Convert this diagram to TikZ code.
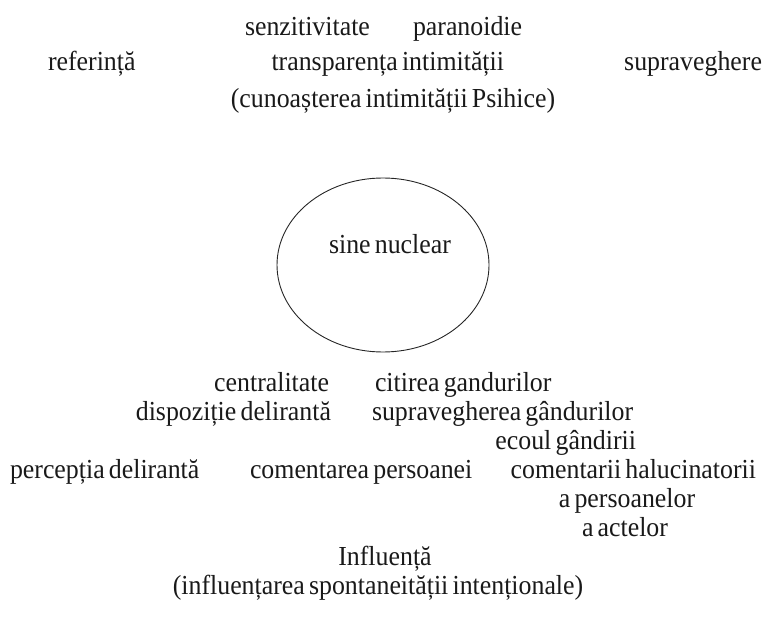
\documentclass[tikz,border=0pt]{standalone}
\usepackage{fontspec}
\setmainfont{Liberation Serif}[WordSpace=0.65]
\usetikzlibrary{shapes.geometric}
\tikzset{
  lbl/.style={inner sep=0pt, outer sep=0pt, font=\fontsize{27.5}{30}\selectfont, text=black!90, xscale=0.94, transform shape},
  core/.style={draw=black!85, line width=0.9pt, ellipse, inner sep=0pt, minimum width=212pt, minimum height=174pt}
}
\begin{document}
\begin{tikzpicture}[x=1pt,y=-1pt]
\useasboundingbox (0,0) rectangle (775,617);
% top block
\node[lbl, anchor=base west] (senz) at (245,36) {senzitivitate};
\node[lbl, anchor=base west] (para) at (413,36) {paranoidie};
\node[lbl, anchor=base west] (ref) at (48,71) {referință};
\node[lbl, anchor=base east] (transp) at (504,71) {transparența intimității};
\node[lbl, anchor=base east] (supr) at (762,71) {supraveghere};
\node[lbl, anchor=base] (cunoa) at (393,108) {(cunoașterea intimității Psihice)};
% core
\node[core] (nucleus) at (383,265) {};
\node[lbl, anchor=base] (sine) at (390,254) {sine nuclear};
% bottom block
\node[lbl, anchor=base east] (centr) at (329,391) {centralitate};
\node[lbl, anchor=base west] (citir) at (375,391) {citirea gandurilor};
\node[lbl, anchor=base east] (dispoz) at (331,420) {dispoziție delirantă};
\node[lbl, anchor=base west] (suprg) at (372,420) {supravegherea gândurilor};
\node[lbl, anchor=base east] (ecoul) at (636,449) {ecoul gândirii};
\node[lbl, anchor=base west] (perc) at (10,478) {percepția delirantă};
\node[lbl, anchor=base west] (coment) at (250,478) {comentarea persoanei};
\node[lbl, anchor=base east] (comh) at (756,478) {comentarii halucinatorii};
\node[lbl, anchor=base] (apers) at (627,507) {a persoanelor};
\node[lbl, anchor=base] (aact) at (625,536) {a actelor};
\node[lbl, anchor=base] (infl) at (385,565) {Influență};
\node[lbl, anchor=base] (inflsp) at (378,594) {(influențarea spontaneității intenționale)};
\end{tikzpicture}
\end{document}
